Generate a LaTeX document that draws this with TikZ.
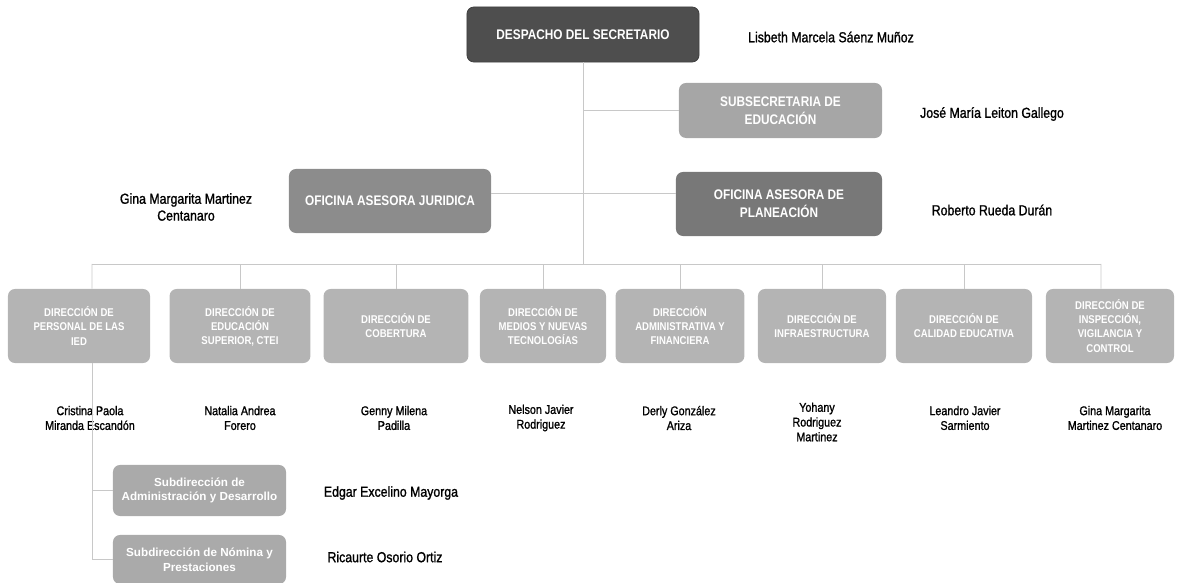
\documentclass[tikz,border=0pt]{standalone}
\usepackage{fontspec}
\setmainfont{Liberation Sans}[FakeStretch=0.85]
\newfontfamily\subfont{Liberation Sans}
\newfontfamily\namefont{Liberation Sans}[FakeStretch=0.85, FakeBold=1.2]

\definecolor{despgray}{HTML}{4E4E4E}
\definecolor{subsgray}{HTML}{A6A6A6}
\definecolor{jurgray}{HTML}{8C8C8C}
\definecolor{plangray}{HTML}{787878}
\definecolor{dirgray}{HTML}{B4B4B4}
\definecolor{subdgray}{HTML}{AAAAAA}
\definecolor{linegray}{HTML}{C8C8C8}

\begin{document}
\begin{tikzpicture}[
    x=0.025cm, y=-0.025cm,
    line width=0.6pt,
    unit/.style={rectangle, rounded corners=5pt, text=white, align=center, inner sep=0pt,
        font=\bfseries\fontsize{9.9}{12.6}\selectfont},
    dirbox/.style={unit, fill=dirgray, minimum height=1.85cm,
        font=\bfseries\fontsize{8}{10}\selectfont},
    subbox/.style={unit, fill=subdgray, minimum width=4.325cm,
        font=\subfont\bfseries\fontsize{8.3}{10.5}\selectfont},
    person/.style={align=center, inner sep=0pt, font=\namefont\fontsize{9}{10.5}\selectfont},
    bigperson/.style={person, font=\namefont\fontsize{10.3}{12}\selectfont},
    link/.style={draw=linegray}
]
  \useasboundingbox (0,0) rectangle (1180,583);

  % top
  \node[unit, fill=despgray, draw=black!75, minimum width=5.8cm, minimum height=1.375cm] (desp) at (583,34.5) {DESPACHO DEL SECRETARIO};
  \node[bigperson] (lisbeth) at (831,37) {Lisbeth Marcela Sáenz Muñoz};

  \node[unit, fill=subsgray, minimum width=5.075cm, minimum height=1.375cm] (subs) at (780.5,110.5) {SUBSECRETARIA DE\\EDUCACIÓN};
  \node[bigperson] (jose) at (992,114) {José María Leiton Gallego};

  \node[unit, fill=jurgray, minimum width=5.05cm, minimum height=1.6cm] (jur) at (390,201) {OFICINA ASESORA JURIDICA};
  \node[bigperson] (gina) at (186,207) {Gina Margarita Martinez\\Centanaro};

  \node[unit, fill=plangray, minimum width=5.15cm, minimum height=1.6cm] (plan) at (779,204) {OFICINA ASESORA DE\\PLANEACIÓN};
  \node[bigperson] (roberto) at (992,210) {Roberto Rueda Durán};

  % direcciones
  \node[dirbox, minimum width=3.55cm] (d1) at (79,326) {DIRECCIÓN DE\\PERSONAL DE LAS\\IED};
  \node[dirbox, minimum width=3.52cm] (d2) at (240,326) {DIRECCIÓN DE\\EDUCACIÓN\\SUPERIOR, CTEI};
  \node[dirbox, minimum width=3.62cm] (d3) at (396,326) {DIRECCIÓN DE\\COBERTURA};
  \node[dirbox, minimum width=3.15cm] (d4) at (543,326) {DIRECCIÓN DE\\MEDIOS Y NUEVAS\\TECNOLOGÍAS};
  \node[dirbox, minimum width=3.22cm] (d5) at (680,326) {DIRECCIÓN\\ADMINISTRATIVA Y\\FINANCIERA};
  \node[dirbox, minimum width=3.2cm] (d6) at (822,326) {DIRECCIÓN DE\\INFRAESTRUCTURA};
  \node[dirbox, minimum width=3.4cm] (d7) at (964,326) {DIRECCIÓN DE\\CALIDAD EDUCATIVA};
  \node[dirbox, minimum width=3.2cm] (d8) at (1110,326) {DIRECCIÓN DE\\INSPECCIÓN,\\VIGILANCIA Y\\CONTROL};

  \node[person] (cristina) at (90,418) {Cristina Paola\\Miranda Escandón};
  \node[person] (natalia) at (240,418) {Natalia Andrea\\Forero};
  \node[person] (genny) at (394,418) {Genny Milena\\Padilla};
  \node[person] (nelson) at (541,418) {Nelson Javier\\Rodriguez};
  \node[person] (derly) at (679,418) {Derly González\\Ariza};
  \node[person] (yohany) at (817,422) {Yohany\\Rodriguez\\Martinez};
  \node[person] (leandro) at (965,418) {Leandro Javier\\Sarmiento};
  \node[person] (gina2) at (1115,418) {Gina Margarita\\Martinez Centanaro};

  % subdirecciones
  \node[subbox, minimum height=1.275cm] (s1) at (199.5,490.5) {Subdirección de\\Administración y Desarrollo};
  \node[subbox, minimum height=1.225cm] (s2) at (199.5,559.5) {Subdirección de Nómina y\\Prestaciones};
  \node[bigperson] (edgar) at (391,493) {Edgar Excelino Mayorga};
  \node[bigperson] (ricaurte) at (385,557) {Ricaurte Osorio Ortiz};

  % edges
  \coordinate (busL) at (92,264);
  \coordinate (busR) at (1101,264);
  \coordinate (asesor) at (583,193);
  \draw[link] (desp.south) -- (desp.south |- busL);
  \draw[link] (subs.west) -- (subs.west -| desp.south);
  \draw[link] (jur.east |- asesor) -- (plan.west |- asesor);
  \draw[link] (busL) -- (busR);
  \draw[link] (busL) -- ([xshift=0.325cm]d1.north);
  \draw[link] (d2.north) -- (d2.north |- busL);
  \draw[link] (d3.north) -- (d3.north |- busL);
  \draw[link] (d4.north) -- (d4.north |- busL);
  \draw[link] (d5.north) -- (d5.north |- busL);
  \draw[link] (d6.north) -- (d6.north |- busL);
  \draw[link] (d7.north) -- (d7.north |- busL);
  \draw[link] (busR) -- ([xshift=-0.225cm]d8.north);
  \draw[link] ([xshift=0.325cm]d1.south) |- (s1.west);
  \draw[link] ([xshift=0.325cm]d1.south) |- (s2.west);
\end{tikzpicture}
\end{document}
